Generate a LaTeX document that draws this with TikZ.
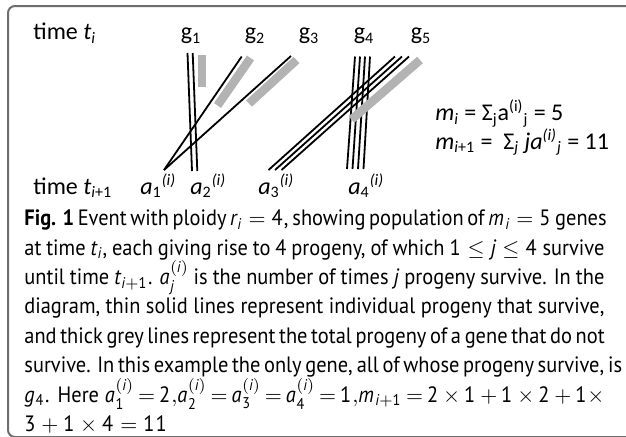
\documentclass[tikz,border=0pt]{standalone}
\usepackage{amsmath}
\usepackage{mathspec}
\setmainfont[FakeStretch=0.92]{PT Sans}
\setmathsfont(Digits,Latin)[FakeStretch=0.92]{PT Sans}
\newfontfamily\calibri{Carlito}
\usepackage{tikz}
\definecolor{frameGrey}{HTML}{6E6E6E}
\definecolor{barGrey}{HTML}{B3B3B3}
\tikzset{
  survive/.style={draw=black,line width=0.9pt},
  lostbar/.style={draw=barGrey,line width=4.3pt},
  glabel/.style={font=\calibri\fontsize{12}{14}\selectfont,inner sep=0pt,anchor=base},
  alabel/.style={glabel,anchor=base west},
}
\newcommand\capline[1]{\makebox[290pt][s]{#1}}
\newcommand\capfont{\fontsize{11.1}{14.7}\selectfont\lineskiplimit=-20pt\relax}

\begin{document}
\begin{tikzpicture}[x=0.5pt,y=-0.5pt]
  \useasboundingbox (0,0) rectangle (626,436);
  % Frame, open on the right and at the bottom
  \draw[frameGrey,line width=1pt,rounded corners=3.5pt] (8,6) rectangle (700,437);

  % Genes at time t_i
  \node[alabel] (ti) at (33,39.5) {time \textit{t}\textsubscript{\textit{i}}};
  \node[glabel] (g1) at (191,39.5) {g\textsubscript{1}};
  \node[glabel] (g2) at (255,39.5) {g\textsubscript{2}};
  \node[glabel] (g3) at (309,39.5) {g\textsubscript{3}};
  \node[glabel] (g4) at (364,39.5) {g\textsubscript{4}};
  \node[glabel] (g5) at (421,39.5) {g\textsubscript{5}};

  % Counts at time t_{i+1}
  \node[alabel] (tnext) at (33,194) {time \textit{t}\textsubscript{\textit{i}+1}};
  \node[alabel] (a1) at (140,194) {\textit{a}\textsubscript{1}\textsuperscript{\textit{(i)}}};
  \node[alabel] (a2) at (190,194) {\textit{a}\textsubscript{2}\textsuperscript{\textit{(i)}}};
  \node[alabel] (a3) at (258,194) {\textit{a}\textsubscript{3}\textsuperscript{\textit{(i)}}};
  \node[alabel] (a4) at (348,194) {\textit{a}\textsubscript{4}\textsuperscript{\textit{(i)}}};

  % Sums
  \node[alabel] (msum) at (435,120.5) {\textit{m}\textsubscript{\textit{i}} = Σ\textsubscript{j}a\textsuperscript{(i)}\textsubscript{j} = 5};
  \node[alabel] (mnext) at (435,149) {\textit{m}\textsubscript{\textit{i}+1} =\ \ Σ\textsubscript{\textit{j}} \textit{ja}\textsuperscript{\textit{(i)}}\textsubscript{\textit{j}} = 11};

  % g1: two progeny survive
  \draw[survive] (187.5,53) -- (192,171);
  \draw[survive] (192.7,53) -- (197.3,171);
  \draw[lostbar] (202,55) -- (202,87);
  % g2 and g3: one progeny each, meeting at a1
  \coordinate (p1) at (164,170);
  \draw[survive] (241.7,56.5) -- (p1);
  \draw[survive] (291,56) -- (p1);
  \draw[lostbar] (250.5,58) -- (217.5,105.5);
  \draw[lostbar] (296.5,60) -- (249,103.5);
  % g4: all four survive
  \foreach \k in {0,...,3}
    \draw[survive] (355+5*\k,56.5) -- (347+5.5*\k,169);
  % g5: three survive
  \foreach \k in {0,1,2}
    \draw[survive] (395+7*\k,56.5) -- (268.5+6.5*\k,170);
  \draw[lostbar] (420,60) -- (351.5,119.5);

  % Caption
  \node[anchor=north west,inner sep=0pt,align=left,font=\capfont] (caption) at (24,209.5) {%
    \capline{\textbf{Fig. 1} Event with ploidy $r_i = 4$, showing population of $m_i = 5$ genes}\\
    \capline{at time $t_i$, each giving rise to 4 progeny, of which $1 \leq j \leq 4$ survive}\\
    \capline{until time $t_{i+1}$. $a_j^{(i)}$ is the number of times \textit{j} progeny survive. In the}\\
    \capline{diagram, thin solid lines represent individual progeny that survive,}\\
    \capline{and thick grey lines represent the total progeny of a gene that do not}\\
    \capline{survive. In this example the only gene, all of whose progeny survive, is}\\
    \capline{\thickmuskip=3mu plus 3mu\medmuskip=3mu plus 2mu minus 1mu%
      $g_4$. Here $a_1^{(i)} = 2,\!a_2^{(i)} = a_3^{(i)} = a_4^{(i)} = 1,\!m_{i+1} = 2 \times 1 + 1 \times 2 + 1{\times}$}\\
    $3 + 1 \times 4 = 11$};
\end{tikzpicture}
\end{document}
